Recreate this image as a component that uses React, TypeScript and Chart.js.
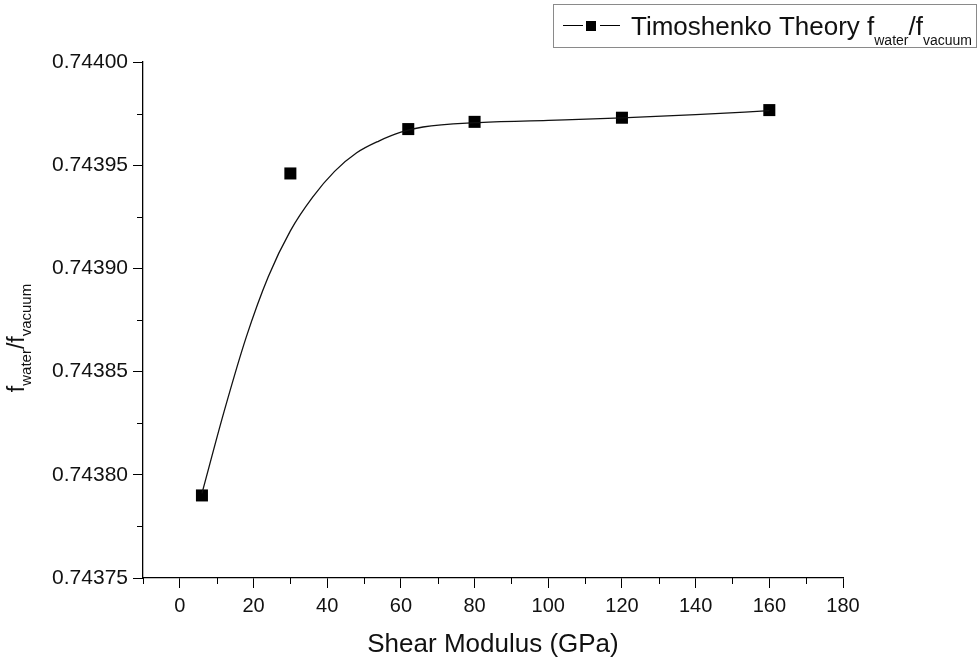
import React, { useEffect, useRef } from "react";
import { Chart, registerables } from "chart.js";

Chart.register(...registerables);

// Measured points (Shear modulus in GPa vs frequency ratio)
const modulusPoints = [6, 30, 62, 80, 120, 160];
const ratioPoints = [0.74379, 0.743946, 0.7439675, 0.743971, 0.743973, 0.7439767];

// Fitted curve
const fitModulus = [6, 12, 18, 24, 30, 36, 42, 48, 54, 60, 66, 80, 100, 120, 140, 160];
const fitRatio = [
  0.743791, 0.7438306, 0.7438666, 0.743896, 0.7439182, 0.7439344, 0.743947, 0.743956,
  0.7439617, 0.743966, 0.7439685, 0.7439706, 0.7439717, 0.7439729, 0.7439745, 0.7439764,
];

const xMajorTicks = [0, 20, 40, 60, 80, 100, 120, 140, 160, 180];
const xMinorTicks = [-10, 10, 30, 50, 70, 90, 110, 130, 150, 170];
const yMajorTicks = [0.74375, 0.7438, 0.74385, 0.7439, 0.74395, 0.744];
const yMinorTicks = [0.743775, 0.743825, 0.743875, 0.743925, 0.743975];

const legendLabel = "Timoshenko Theory f";
const subWater = "water";
const subVacuum = "vacuum";
const xTitle = "Shear Modulus (GPa)";

const FONT = "'Liberation Sans', Arial, sans-serif";

const decorPlugin = {
  id: "decor",
  afterDraw(chart: any) {
    const ctx = chart.ctx as CanvasRenderingContext2D;
    const xs = chart.scales.x;
    const ys = chart.scales.y;
    const area = chart.chartArea;
    ctx.save();
    ctx.strokeStyle = "#000";
    ctx.lineWidth = 1;
    // minor ticks
    ctx.beginPath();
    for (const v of xMinorTicks) {
      const px = Math.round(xs.getPixelForValue(v)) + 0.5;
      ctx.moveTo(px, area.bottom);
      ctx.lineTo(px, area.bottom + 6);
    }
    for (const v of yMinorTicks) {
      const py = Math.round(ys.getPixelForValue(v)) + 0.5;
      ctx.moveTo(area.left, py);
      ctx.lineTo(area.left - 6, py);
    }
    ctx.stroke();

    // x title
    ctx.fillStyle = "#111";
    ctx.font = `26px ${FONT}`;
    ctx.textAlign = "center";
    ctx.textBaseline = "alphabetic";
    ctx.fillText(xTitle, (area.left + area.right) / 2, 652);

    // y title (rotated, with subscripts)
    const mainFont = `23px ${FONT}`;
    const subFont = `15px ${FONT}`;
    const segs: [string, boolean][] = [["f", false], [subWater, true], ["/f", false], [subVacuum, true]];
    let total = 0;
    const widths: number[] = [];
    for (const [t, sub] of segs) {
      ctx.font = sub ? subFont : mainFont;
      const w = ctx.measureText(t).width;
      widths.push(w);
      total += w;
    }
    ctx.save();
    ctx.translate(24, 338);
    ctx.rotate(-Math.PI / 2);
    ctx.textAlign = "left";
    let cx = -total / 2;
    segs.forEach(([t, sub], i) => {
      ctx.font = sub ? subFont : mainFont;
      ctx.fillText(t, cx, sub ? 7 : 0);
      cx += widths[i];
    });
    ctx.restore();

    // legend
    ctx.strokeStyle = "#8a8a8a";
    ctx.lineWidth = 1;
    ctx.strokeRect(553.5, 4.5, 423, 43);
    ctx.strokeStyle = "#000";
    ctx.beginPath();
    ctx.moveTo(563, 25.5);
    ctx.lineTo(583, 25.5);
    ctx.moveTo(600, 25.5);
    ctx.lineTo(620, 25.5);
    ctx.stroke();
    ctx.fillStyle = "#000";
    ctx.fillRect(586, 21, 10, 10);
    ctx.fillStyle = "#111";
    ctx.textAlign = "left";
    let lx = 631;
    const lsegs: [string, boolean][] = [[legendLabel, false], [subWater, true], ["/f", false], [subVacuum, true]];
    for (const [t, sub] of lsegs) {
      ctx.font = sub ? `14px ${FONT}` : `26px ${FONT}`;
      ctx.fillText(t, lx, sub ? 45 : 35);
      lx += ctx.measureText(t).width;
    }
    ctx.restore();
  },
};

export default function App() {
  const ref = useRef<HTMLCanvasElement | null>(null);
  useEffect(() => {
    if (!ref.current) return;
    const chart = new Chart(ref.current, {
      type: "scatter",
      data: {
        datasets: [
          {
            label: "fit",
            data: fitModulus.map((x, i) => ({ x, y: fitRatio[i] })),
            showLine: true,
            borderColor: "#111",
            borderWidth: 1.3,
            pointRadius: 0,
            cubicInterpolationMode: "monotone",
            fill: false,
          },
          {
            label: "Timoshenko Theory",
            data: modulusPoints.map((x, i) => ({ x, y: ratioPoints[i] })),
            showLine: false,
            pointStyle: "rect",
            pointRadius: 8.5,
            pointBackgroundColor: "#000",
            pointBorderColor: "#000",
            pointBorderWidth: 0,
          },
        ],
      },
      options: {
        animation: false,
        responsive: false,
        devicePixelRatio: 1,
        layout: { padding: { left: 0, right: 137, top: 62, bottom: 0 } },
        plugins: { legend: { display: false }, tooltip: { enabled: false } },
        scales: {
          x: {
            type: "linear",
            min: -10,
            max: 180,
            afterBuildTicks: (s: any) => {
              s.ticks = xMajorTicks.map((v) => ({ value: v }));
            },
            afterFit: (s: any) => {
              s.height = 82;
            },
            grid: { display: true, drawOnChartArea: false, drawTicks: true, tickLength: 10, color: "#000" },
            border: { display: true, color: "#000", width: 1.3 },
            ticks: {
              color: "#111",
              font: { family: FONT, size: 20 },
              padding: 6,
              maxRotation: 0,
              autoSkip: false,
              callback: (v: any) => String(v),
            },
          },
          y: {
            type: "linear",
            min: 0.74375,
            max: 0.744,
            afterBuildTicks: (s: any) => {
              s.ticks = yMajorTicks.map((v) => ({ value: v }));
            },
            afterFit: (s: any) => {
              s.width = 143;
            },
            grid: { display: true, drawOnChartArea: false, drawTicks: true, tickLength: 10, color: "#000" },
            border: { display: true, color: "#000", width: 1.3 },
            ticks: {
              color: "#111",
              font: { family: FONT, size: 21 },
              padding: 5,
              autoSkip: false,
              callback: (v: any) => Number(v).toFixed(5),
            },
          },
        },
      },
      plugins: [decorPlugin],
    });
    return () => chart.destroy();
  }, []);
  return (
    <div style={{ position: "fixed", left: 0, top: 0, width: 980, height: 660, background: "#fff" }}>
      <canvas ref={ref} width={980} height={660} style={{ width: 980, height: 660, display: "block" }} />
    </div>
  );
}
